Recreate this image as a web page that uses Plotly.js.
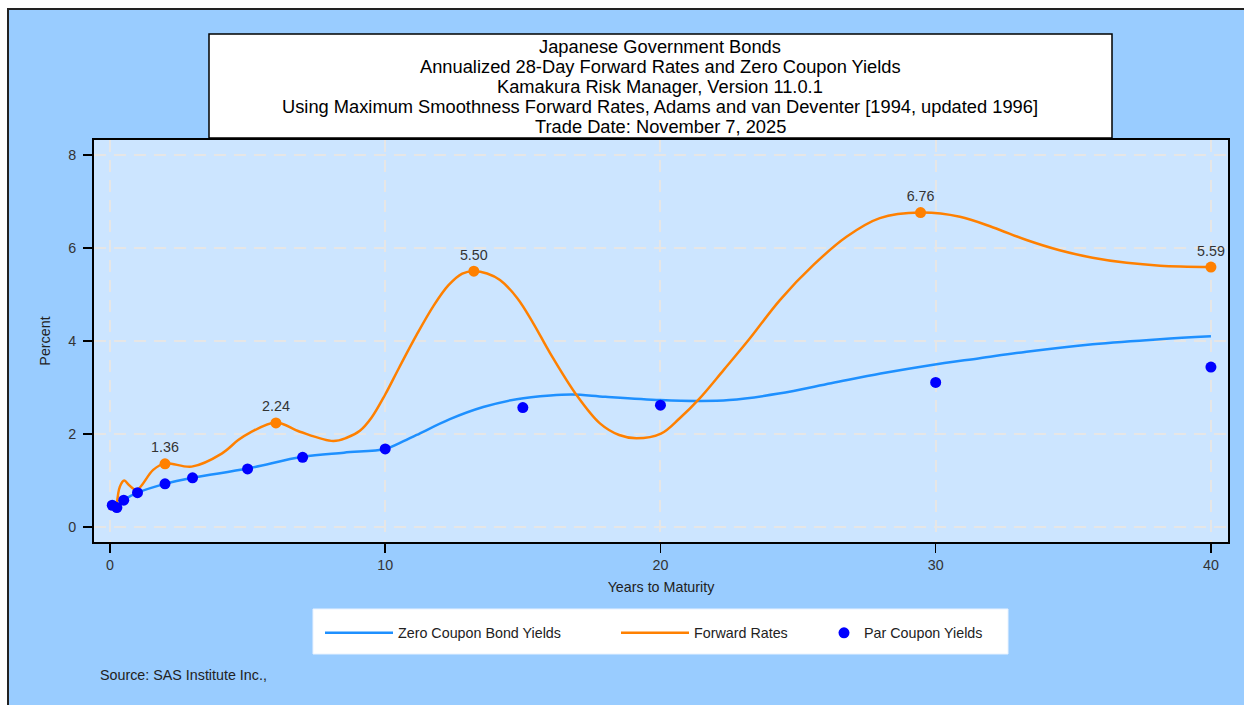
<!DOCTYPE html>
<html>
<head>
<meta charset="utf-8">
<script src="https://cdn.plot.ly/plotly-3.0.1.min.js"></script>
<style>html,body{margin:0;padding:0;background:#fff;}#chart{width:1244px;height:705px;}</style>
</head>
<body>
<div id="chart"></div>
<script>
// Zero coupon bond yields (smooth curve)
const zeroX = [0.083, 0.25, 0.5, 1, 2, 3, 5, 7, 8.5, 10, 10.5, 11.14, 12.35, 13.56, 14.78, 16, 16.8, 18, 20, 21.4, 22.5, 24.3, 26.2, 28, 29.8, 31.6, 33.3, 35.7, 38.15, 40];
const zeroY = [0.47, 0.44, 0.58, 0.74, 0.93, 1.06, 1.26, 1.51, 1.60, 1.68, 1.80, 1.98, 2.32, 2.58, 2.75, 2.83, 2.85, 2.80, 2.73, 2.71, 2.73, 2.87, 3.09, 3.30, 3.48, 3.63, 3.77, 3.93, 4.04, 4.10];

// Annualized 28-day forward rates (smooth curve)
const fwdX = [0.25, 0.36, 0.52, 0.7, 0.97, 1.57, 2.0, 2.97, 4.06, 4.66, 5.09, 6.03, 6.9, 8.11, 8.6, 9.08, 9.5, 10.0, 10.5, 11.14, 11.75, 12.3, 12.8, 13.22, 13.7, 14.17, 14.8, 15.38, 15.99, 16.95, 17.8, 18.5, 19.13, 20.02, 20.7, 21.4, 22.3, 23.2, 24.34, 25.55, 26.76, 27.97, 29.45, 30.88, 32.09, 33.3, 34.5, 35.7, 36.94, 38.15, 40];
const fwdY = [0.47, 0.87, 1.0, 0.9, 0.80, 1.23, 1.37, 1.30, 1.58, 1.87, 2.03, 2.25, 2.05, 1.85, 1.92, 2.07, 2.35, 2.85, 3.42, 4.13, 4.75, 5.20, 5.45, 5.50, 5.45, 5.31, 4.92, 4.38, 3.74, 2.84, 2.23, 1.98, 1.91, 2.01, 2.34, 2.75, 3.38, 4.02, 4.88, 5.63, 6.24, 6.64, 6.76, 6.67, 6.44, 6.17, 5.95, 5.79, 5.68, 5.62, 5.59];

// Labelled forward-rate points
const peakX = [2.0, 6.03, 13.22, 29.45, 40];
const peakY = [1.36, 2.24, 5.50, 6.76, 5.59];
const peakLabels = ['1.36', '2.24', '5.50', '6.76', '5.59'];

// Par coupon yields
const parX = [0.083, 0.25, 0.5, 1, 2, 3, 5, 7, 10, 15, 20, 30, 40];
const parY = [0.47, 0.42, 0.58, 0.74, 0.93, 1.06, 1.25, 1.50, 1.68, 2.57, 2.62, 3.11, 3.44];

const titleLines = [
  'Japanese Government Bonds',
  'Annualized 28-Day Forward Rates and Zero Coupon Yields',
  'Kamakura Risk Manager, Version 11.0.1',
  'Using Maximum Smoothness Forward Rates, Adams and van Deventer [1994, updated 1996]',
  'Trade Date: November 7, 2025'
];

const FONT = 'Liberation Sans, Arial, sans-serif';
const FS = 14.3;
const W = 1244, H = 705;
const M = {l: 94, r: 16, t: 140, b: 163};
const pw = W - M.l - M.r, ph = H - M.t - M.b;
const px = x => (x - M.l) / pw;
const py = y => (H - M.b - y) / ph;

const traces = [
  {x: zeroX, y: zeroY, mode: 'lines', name: 'Zero Coupon Bond Yields', legend: 'legend',
   line: {color: '#1E90FF', width: 2.5, shape: 'spline', smoothing: 1}},
  {x: fwdX, y: fwdY, mode: 'lines', name: 'Forward Rates', legend: 'legend2',
   line: {color: '#FF8000', width: 2.5, shape: 'spline', smoothing: 1}},
  {x: peakX, y: peakY, mode: 'markers+text', showlegend: false, text: peakLabels,
   textposition: 'top center', textfont: {family: FONT, size: FS, color: '#333'},
   marker: {color: '#FF8000', size: 11}, cliponaxis: false},
  {x: parX, y: parY, mode: 'markers', name: 'Par Coupon Yields', legend: 'legend3',
   marker: {color: '#0000FF', size: 11}}
];

const legendBase = {orientation: 'h', xanchor: 'left', y: py(617), yanchor: 'top',
  bgcolor: 'rgba(0,0,0,0)', font: {family: FONT, size: FS, color: '#222'}, itemwidth: 68};

const annotations = titleLines.map((t, i) => ({
  text: t, xref: 'paper', yref: 'paper', x: px(660), y: py(46 + i * 20),
  xanchor: 'center', yanchor: 'middle', showarrow: false,
  font: {family: FONT, size: 18.3, color: '#000'}
}));
annotations.push({text: 'Source: SAS Institute Inc.,', xref: 'paper', yref: 'paper', x: px(98), y: py(675),
  xanchor: 'left', yanchor: 'middle', showarrow: false, font: {family: FONT, size: FS, color: '#222'}});

const axisCommon = {ticks: 'outside', ticklen: 9, tickwidth: 1.5, tickcolor: '#000',
  showline: true, mirror: true, linecolor: '#000', linewidth: 2,
  showgrid: true, gridcolor: '#E6E6E6', gridwidth: 2, griddash: '12px,8px', zeroline: false,
  tickfont: {family: FONT, size: FS, color: '#333'}};

const layout = {
  width: W, height: H,
  paper_bgcolor: '#99CCFF',
  plot_bgcolor: '#CCE5FF',
  margin: M,
  font: {family: FONT, size: FS, color: '#222'},
  xaxis: Object.assign({}, axisCommon, {range: [-0.58, 40.62], tickvals: [0, 10, 20, 30, 40],
          title: {text: 'Years to Maturity', font: {family: FONT, size: FS, color: '#222'}, standoff: 10}}),
  yaxis: Object.assign({}, axisCommon, {range: [-0.32, 8.32], tickvals: [0, 2, 4, 6, 8], ticklabelstandoff: 4,
          title: {text: 'Percent', font: {family: FONT, size: FS, color: '#222'}, standoff: 14}}),
  showlegend: true,
  legend: Object.assign({}, legendBase, {x: px(320)}),
  legend2: Object.assign({}, legendBase, {x: px(616)}),
  legend3: Object.assign({}, legendBase, {x: px(824), itemwidth: 30}),
  shapes: [
    {type: 'rect', xref: 'paper', yref: 'paper', layer: 'below',
     x0: px(-5), x1: px(1260), y0: py(8), y1: py(-5), fillcolor: '#ffffff', line: {width: 0}},
    {type: 'rect', xref: 'paper', yref: 'paper', layer: 'below',
     x0: px(-5), x1: px(7), y0: py(720), y1: py(-5), fillcolor: '#ffffff', line: {width: 0}},
    {type: 'rect', xref: 'paper', yref: 'paper', layer: 'below',
     x0: px(8), x1: px(1270), y0: py(730), y1: py(9), line: {color: '#222', width: 2}},
    {type: 'rect', xref: 'paper', yref: 'paper', layer: 'below',
     x0: px(209), x1: px(1112), y0: py(138), y1: py(34),
     fillcolor: '#ffffff', line: {color: '#000', width: 1.5}},
    {type: 'rect', xref: 'paper', yref: 'paper', layer: 'below',
     x0: px(313), x1: px(1008), y0: py(654), y1: py(609),
     fillcolor: '#ffffff', line: {color: '#E8F2FF', width: 1}}
  ],
  annotations: annotations
};

Plotly.newPlot('chart', traces, layout, {displayModeBar: false, staticPlot: true});
</script>
</body>
</html>
